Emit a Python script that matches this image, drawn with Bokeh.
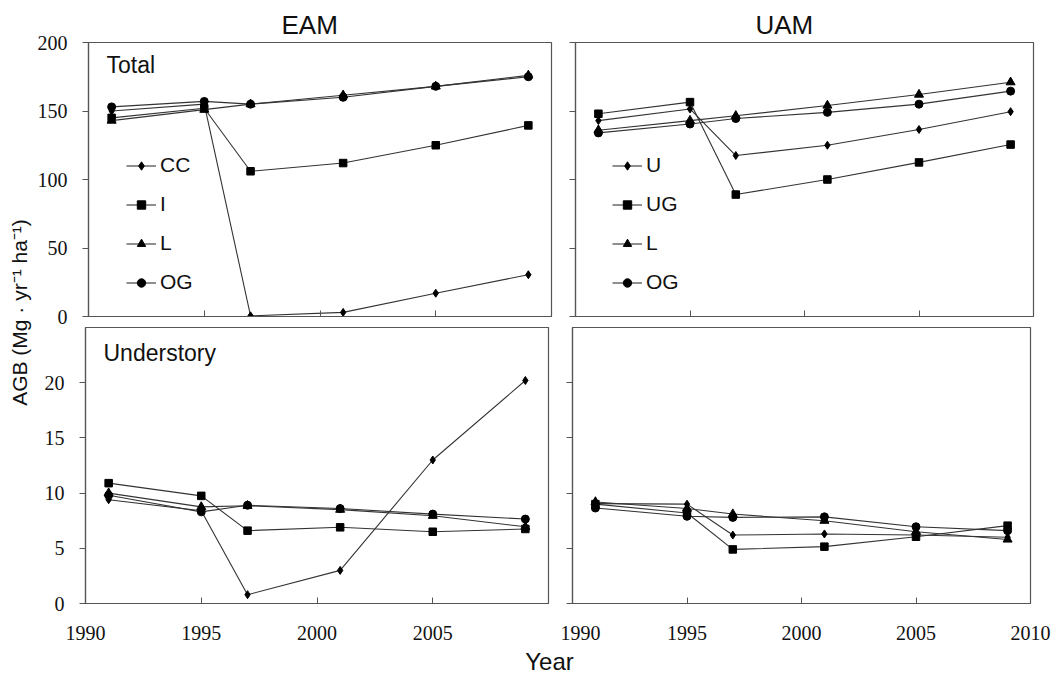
import math
from bokeh.plotting import figure
from bokeh.models import Range1d, FixedTicker, Label, Legend, LegendItem, Title
from bokeh.layouts import row, column
from bokeh.embed import file_html
from bokeh.resources import INLINE

# ---------------- data ----------------
years = [1991, 1995, 1997, 2001, 2005, 2009]

x_ticks = [1990, 1995, 2000, 2005, 2010]
total_ticks = [0, 50, 100, 150, 200]
under_ticks = [0, 5, 10, 15, 20]

eam_names = ["CC", "I", "L", "OG"]
uam_names = ["U", "UG", "L", "OG"]

# EAM total
eam_total_cc = [150, 155, 0.5, 3, 17, 30.5]
eam_total_i = [145, 152, 106, 112, 125, 139.5]
eam_total_l = [143, 151, 155, 161.5, 168, 176]
eam_total_og = [153, 157, 155, 160, 168, 175]

# UAM total
uam_total_u = [143, 151.5, 117.5, 125, 136.5, 149.5]
uam_total_ug = [148, 156.5, 89, 100, 112.5, 125.5]
uam_total_l = [136, 143, 146.5, 154, 162, 171]
uam_total_og = [134, 140.5, 144.5, 149, 155, 164.5]

# EAM understory
eam_under_cc = [9.4, 8.4, 0.8, 3.0, 13.0, 20.2]
eam_under_i = [10.9, 9.75, 6.6, 6.9, 6.5, 6.75]
eam_under_l = [10.0, 8.75, 8.85, 8.5, 7.95, 6.95]
eam_under_og = [9.8, 8.3, 8.9, 8.6, 8.1, 7.65]

# UAM understory
uam_under_u = [9.05, 9.0, 6.2, 6.3, 6.2, 6.0]
uam_under_ug = [9.0, 8.2, 4.9, 5.15, 6.05, 7.05]
uam_under_l = [9.2, 8.6, 8.1, 7.5, 6.5, 5.8]
uam_under_og = [8.65, 7.9, 7.8, 7.85, 6.95, 6.6]

# ---------------- styles ----------------
SANS = "Liberation Sans"
SERIF = "Liberation Serif"
EDGE = "#555555"
LINE = "#333333"
markers = ["diamond", "square", "triangle", "circle"]
msizes = [8, 7.5, 9, 8]


def panel(fw, fh, ymax, yticks, show_ylabels, show_xlabels, hide_2010,
          bl, br, bt, bb):
    p = figure(frame_width=fw, frame_height=fh, title=None,
               x_range=Range1d(1990, 2010), y_range=Range1d(0, ymax),
               output_backend="svg", toolbar_location=None,
               min_border_left=bl, min_border_right=br,
               min_border_top=bt, min_border_bottom=bb)
    p.xgrid.visible = False
    p.ygrid.visible = False
    p.outline_line_color = EDGE
    p.outline_line_width = 1.2
    p.background_fill_color = "white"
    p.border_fill_color = "white"

    xa = p.xaxis[0]
    xa.ticker = FixedTicker(ticks=x_ticks)
    xa.major_tick_in = 6
    xa.major_tick_out = 0
    xa.minor_tick_line_color = None
    xa.axis_line_color = EDGE
    xa.axis_line_width = 1.2
    xa.major_tick_line_color = EDGE
    if show_xlabels:
        xa.major_label_text_font = SERIF
        xa.major_label_text_font_size = "20px"
        xa.major_label_text_color = "#111111"
        xa.major_label_standoff = 22
        if hide_2010:
            xa.major_label_overrides = {2010: ""}
    else:
        xa.major_label_text_color = None
        xa.major_label_standoff = 0

    ya = p.yaxis[0]
    ya.ticker = FixedTicker(ticks=yticks)
    ya.major_tick_in = 0
    ya.major_tick_out = 6
    ya.minor_tick_line_color = None
    ya.axis_line_color = EDGE
    ya.axis_line_width = 1.2
    ya.major_tick_line_color = EDGE
    if show_ylabels:
        ya.major_label_text_font = SERIF
        ya.major_label_text_font_size = "20px"
        ya.major_label_text_color = "#111111"
        ya.major_label_standoff = 15
    else:
        ya.major_label_text_color = None
        ya.major_label_standoff = 0
    return p


def draw(p, series, names=None, legend_x=38):
    items = []
    for vals, m, s, name in zip(series, markers, msizes, names or [None] * 4):
        lr = p.line(years, vals, line_color=LINE, line_width=1.1)
        sr = p.scatter(years, vals, marker=m, size=s,
                       fill_color="black", line_color="black")
        if name is not None:
            items.append(LegendItem(label=name, renderers=[lr, sr]))
    if items:
        leg = Legend(items=items, location=(legend_x, 22),
                     orientation="vertical", padding=0, margin=0,
                     spacing=15, label_height=21, glyph_height=21,
                     glyph_width=30, label_standoff=4,
                     border_line_color=None, background_fill_alpha=0,
                     label_text_font=SANS, label_text_font_size="21px",
                     label_text_color="#111111")
        p.add_layout(leg)


def txt(p, x, y, t, size, align="left", angle=0.0):
    p.add_layout(Label(x=x, y=y, x_units="screen", y_units="screen", text=t,
                       text_font=SANS, text_font_size=size,
                       text_color="#111111", text_align=align,
                       text_baseline="middle", angle=angle))


def head(p, t, offset):
    p.add_layout(Title(text=t, align="left", offset=offset, standoff=5,
                       text_font=SANS, text_font_size="26px",
                       text_font_style="normal", text_color="#111111"),
                 "above")


LW, RW = 463, 458
TH, BH = 274, 276

tl = panel(LW, TH, 200, total_ticks, True, False, False, 51, 12, 42, 11)
tr = panel(RW, TH, 200, total_ticks, False, False, False, 12, 23, 42, 11)
bl = panel(LW, BH, 25, under_ticks, True, True, True, 51, 12, 0, 46)
br = panel(RW, BH, 25, under_ticks, False, True, False, 12, 23, 0, 46)

draw(tl, [eam_total_cc, eam_total_i, eam_total_l, eam_total_og], eam_names, 38)
draw(tr, [uam_total_u, uam_total_ug, uam_total_l, uam_total_og], uam_names, 37)
draw(bl, [eam_under_cc, eam_under_i, eam_under_l, eam_under_og])
draw(br, [uam_under_u, uam_under_ug, uam_under_l, uam_under_og])

head(tl, "EAM", 193)
head(tr, "UAM", 180)
txt(tl, 18, TH - 22, "Total", "23px")
txt(bl, 18, BH - 25, "Understory", "23px")

STRIP_H = 42 + TH + 11 + 0 + BH + 46

# y-axis title strip
ylab = figure(frame_width=34, frame_height=STRIP_H, title=None,
              x_range=Range1d(0, 1), y_range=Range1d(0, 1),
              x_axis_location=None, y_axis_location=None,
              output_backend="svg", toolbar_location=None, min_border=0)
ylab.grid.visible = False
ylab.outline_line_color = None
txt(ylab, 19, STRIP_H - 312, "AGB (Mg · yr⁻¹ ha⁻¹)", "21px", "center", math.pi / 2)

# x-axis title strip
xlab = figure(frame_width=1053, frame_height=677 - STRIP_H, title=None,
              x_range=Range1d(0, 1), y_range=Range1d(0, 1),
              x_axis_location=None, y_axis_location=None,
              output_backend="svg", toolbar_location=None, min_border=0)
xlab.grid.visible = False
xlab.outline_line_color = None
txt(xlab, 549, 677 - STRIP_H - 12, "Year", "24px", "center")

layout = column(row(ylab, column(row(tl, tr), row(bl, br))), xlab)

open("out.html", "w").write(file_html(layout, INLINE))
